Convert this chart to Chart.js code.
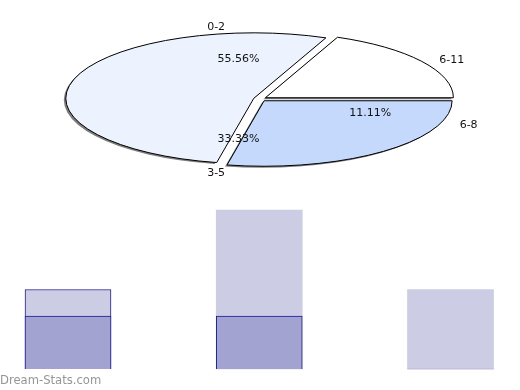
<!DOCTYPE html>
<html><head><meta charset="utf-8">
<script src="https://cdn.jsdelivr.net/npm/chart.js@4.4.0/dist/chart.umd.min.js"></script>
<style>
html,body{margin:0;padding:0;background:#fff;}
#wrap{position:relative;width:520px;height:390px;overflow:hidden;}
canvas{position:absolute;left:0;top:0;}
#credit{position:absolute;left:0;top:373px;font:11.6px "DejaVu Sans",sans-serif;color:#959595;}
</style></head><body>
<div id="wrap">
<canvas id="bars" width="520" height="390"></canvas>
<canvas id="pie" width="520" height="390"></canvas>
<div id="credit">Dream-Stats.com</div>
</div>
<script>
// ---- pie data (slices in drawing order, clockwise from 3 o'clock) ----
const pieCategories = ['3-5', '0-2', '6-8', '6-11'];
const pieCounts = [3, 5, 1, 0];
const pieColors = ['#c5d9fd', '#edf3fe', '#ffffff', '#ffffff'];
// order used for the text labels (counter-clockwise from 3 o'clock)
const labelOrder = ['0-2', '3-5', '6-8', '6-11'];

// ---- bar data ----
const barCategories = ['a', 'b', 'c'];
const seriesLight = [3, 6, 3];
const seriesDark = [2, 2, 0];

const EXPLODE = 6.5;
const ZERO_LABEL_ANGLE = -32.5 * Math.PI / 180;

const ellipsePie = {
  id: 'ellipsePie',
  afterDatasetsDraw(chart) {
    const ctx = chart.ctx;
    const a = chart.chartArea;
    const cx = (a.left + a.right) / 2, cy = (a.top + a.bottom) / 2;
    const rx = (a.right - a.left) / 2, ry = (a.bottom - a.top) / 2;
    const meta = chart.getDatasetMeta(0);
    const pAng = th => Math.atan2(rx * Math.sin(th), ry * Math.cos(th));
    const shapes = [];
    meta.data.forEach((arc, i) => {
      const s = arc.startAngle, e = arc.endAngle;
      if (e - s <= 1e-6) return;
      let t1 = pAng(s), t2 = pAng(e);
      while (t2 <= t1) t2 += 2 * Math.PI;
      const tm = (t1 + t2) / 2;
      const ox = cx + EXPLODE * Math.cos(tm);
      const oy = cy + EXPLODE * (ry / rx) * Math.sin(tm);
      shapes.push({ox, oy, t1, t2, color: pieColors[i]});
    });
    const path = (sh, dx, dy) => {
      ctx.beginPath();
      ctx.moveTo(sh.ox + dx, sh.oy + dy);
      ctx.ellipse(sh.ox + dx, sh.oy + dy, rx, ry, 0, sh.t1, sh.t2);
      ctx.closePath();
    };
    ctx.save();
    // shadow / depth
    shapes.forEach(sh => {
      path(sh, -2, 1.5);
      ctx.fillStyle = '#7d7d7d';
      ctx.fill();
    });
    // faces
    shapes.forEach(sh => {
      path(sh, 0, 0);
      ctx.fillStyle = sh.color;
      ctx.fill();
      ctx.lineWidth = 1;
      ctx.strokeStyle = '#000';
      ctx.stroke();
    });
    // labels
    const total = pieCounts.reduce((p, q) => p + q, 0);
    let acc = 0;
    ctx.font = '11px "DejaVu Sans", sans-serif';
    ctx.fillStyle = '#111';
    ctx.textBaseline = 'middle';
    labelOrder.forEach(name => {
      const v = pieCounts[pieCategories.indexOf(name)];
      let mid = 2 * Math.PI - (acc + v / 2) / total * 2 * Math.PI;
      acc += v;
      if (v === 0) mid = ZERO_LABEL_ANGLE;
      if (v > 0) {
        ctx.textAlign = 'center';
        ctx.fillText((v / total * 100).toFixed(2) + '%',
          cx - 1 + 0.63 * rx * Math.cos(mid), cy + 0.5 + 0.62 * ry * Math.sin(mid));
      }
      const right = Math.cos(mid) >= 0;
      const lx = cx + 1.13 * rx * Math.cos(mid) + (right ? 0 : 2);
      const ly = cy + 1 + 1.13 * ry * Math.sin(mid);
      ctx.textAlign = right ? 'left' : 'right';
      ctx.fillText(name, lx, ly);
    });
    ctx.restore();
  }
};

new Chart(document.getElementById('pie'), {
  type: 'pie',
  data: {
    labels: pieCategories,
    datasets: [{
      data: pieCounts,
      backgroundColor: 'rgba(0,0,0,0)',
      borderWidth: 0
    }]
  },
  options: {
    responsive: false,
    animation: false,
    events: [],
    rotation: 90,
    layout: {padding: {left: 72, right: 72, top: 33.5, bottom: 225.5}},
    plugins: {legend: {display: false}, tooltip: {enabled: false}}
  },
  plugins: [ellipsePie]
});

new Chart(document.getElementById('bars'), {
  type: 'bar',
  data: {
    labels: barCategories,
    datasets: [
      {
        data: seriesLight,
        backgroundColor: '#cccce5',
        borderColor: '#1b1b98',
        borderWidth: [1, 0, 0],
        borderSkipped: 'start',
        order: 1,
        clip: false
      },
      {
        data: seriesDark,
        backgroundColor: '#a3a3d1',
        borderColor: '#1b1b98',
        borderWidth: [1, 1, 0],
        borderSkipped: 'start',
        order: 0,
        clip: false
      }
    ]
  },
  options: {
    responsive: false,
    animation: false,
    events: [],
    layout: {padding: {left: 68, right: 69.5, top: 210, bottom: 21}},
    datasets: {bar: {grouped: false, barThickness: 86}},
    scales: {
      x: {display: false, offset: false},
      y: {display: false, min: 0, max: 6}
    },
    plugins: {legend: {display: false}, tooltip: {enabled: false}}
  }
});
</script>
</body></html>
